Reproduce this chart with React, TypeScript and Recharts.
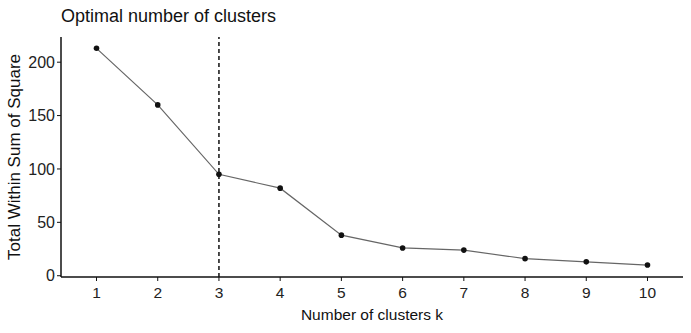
import { LineChart, Line, XAxis, YAxis, ReferenceLine } from "recharts";

const clusters = [1, 2, 3, 4, 5, 6, 7, 8, 9, 10];
const wss = [213, 160, 95, 82, 38, 26, 24, 16, 13, 10];
const yTicks = [0, 50, 100, 150, 200];
const optimalK = 3;

const font = "'Liberation Sans', Arial, sans-serif";

export default function App() {
  const data = clusters.map((k, i) => ({ k, wss: wss[i] }));

  return (
    <div style={{ position: "absolute", left: 0, top: 0, width: 691, height: 333, background: "#fff", fontFamily: font }}>
      <div style={{ position: "absolute", left: 61, top: 6, fontSize: 18, color: "#111", whiteSpace: "nowrap" }}>
        Optimal number of clusters
      </div>
      <LineChart width={691} height={333} data={data} margin={{ top: 37, right: 8, bottom: 13, left: 0 }}>
        <XAxis
          dataKey="k"
          type="number"
          domain={[0.42, 10.58]}
          ticks={clusters}
          tick={{ fill: "#222", fontSize: 15.5, fontFamily: font }}
          axisLine={{ stroke: "#111", strokeWidth: 1.5 }}
          tickLine={{ stroke: "#111" }}
          tickSize={4}
          tickMargin={6}
          height={43}
          label={{ value: "Number of clusters k", position: "insideBottom", offset: 0, fill: "#111", fontSize: 15.5, fontFamily: font }}
        />
        <YAxis
          type="number"
          domain={[-1.2, 223.6]}
          ticks={yTicks}
          tick={{ fill: "#222", fontSize: 16, fontFamily: font }}
          axisLine={{ stroke: "#111", strokeWidth: 1.5 }}
          tickLine={{ stroke: "#111" }}
          tickSize={4}
          width={61}
          label={{ value: "Total Within Sum of Square", angle: -90, position: "insideLeft", offset: 14, fill: "#111", fontSize: 17, fontFamily: font, style: { textAnchor: "middle" } }}
        />
        <ReferenceLine x={optimalK} stroke="#111" strokeWidth={1.5} strokeDasharray="4 3" />
        <Line
          dataKey="wss"
          type="linear"
          stroke="#666"
          strokeWidth={1.2}
          dot={{ r: 2.8, fill: "#111", stroke: "#111", strokeWidth: 0 }}
          isAnimationActive={false}
        />
      </LineChart>
    </div>
  );
}
